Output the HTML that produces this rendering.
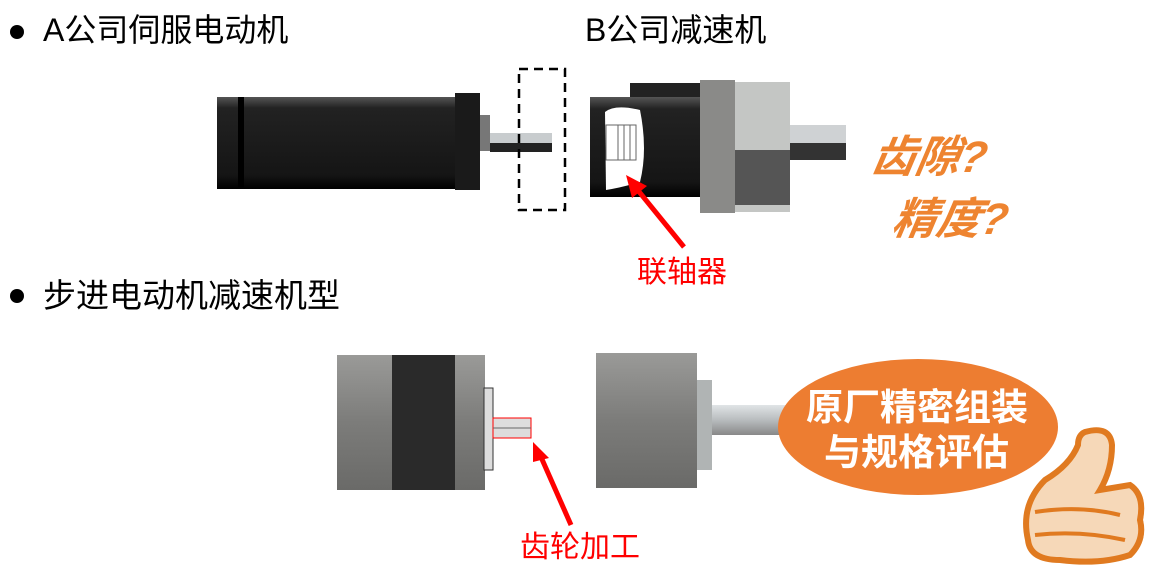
<!DOCTYPE html>
<html><head><meta charset="utf-8"><style>
body{margin:0;width:1153px;height:577px;background:#fff;position:relative;overflow:hidden;font-family:"Liberation Sans","Noto Sans CJK SC",sans-serif}
.t{position:absolute;white-space:nowrap;line-height:1}
</style></head><body>
<svg width="1153" height="577" style="position:absolute;left:0;top:0">
<defs>
<linearGradient id="dk" x1="0" y1="0" x2="0" y2="1"><stop offset="0" stop-color="#555"/><stop offset="0.12" stop-color="#222"/><stop offset="0.85" stop-color="#151515"/><stop offset="1" stop-color="#000"/></linearGradient>
<linearGradient id="gr" x1="0" y1="0" x2="0" y2="1"><stop offset="0" stop-color="#9a9a98"/><stop offset="0.5" stop-color="#7c7c7a"/><stop offset="1" stop-color="#6a6a68"/></linearGradient>
<linearGradient id="sh" x1="0" y1="0" x2="0" y2="1"><stop offset="0" stop-color="#e0e4e6"/><stop offset="0.5" stop-color="#b8bcbe"/><stop offset="1" stop-color="#888"/></linearGradient>
</defs>
<circle cx="17" cy="32" r="7" fill="#000"/>
<circle cx="17" cy="296" r="7" fill="#000"/>
<rect x="217" y="97" width="240" height="92" fill="url(#dk)"/>
<rect x="238" y="97" width="6" height="90" fill="#000"/>
<rect x="455" y="93" width="25" height="97" fill="#1a1a1a"/>
<rect x="480" y="115" width="10" height="36" fill="#777"/>
<rect x="490" y="133" width="62" height="10" fill="#c8ccce"/>
<rect x="490" y="143" width="62" height="9" fill="#222"/>
<rect x="519" y="69" width="46" height="141" fill="none" stroke="#000" stroke-width="2.5" stroke-dasharray="9,6"/>
<rect x="590" y="97" width="112" height="100" fill="url(#dk)"/>
<rect x="630" y="83" width="72" height="14" fill="#222"/>
<path d="M605 112 Q615 104 640 110 Q648 150 640 182 Q620 188 606 190 Z" fill="#fff"/>
<rect x="606" y="125" width="30" height="35" fill="#fff" stroke="#666"/>
<line x1="618" y1="125" x2="618" y2="160" stroke="#666"/><line x1="624" y1="125" x2="624" y2="160" stroke="#666"/><line x1="630" y1="125" x2="630" y2="160" stroke="#666"/>
<rect x="700" y="80" width="35" height="133" fill="#8a8a88"/>
<rect x="735" y="82" width="55" height="130" fill="#c4c6c4"/>
<rect x="735" y="150" width="55" height="55" fill="#555"/>
<rect x="790" y="125" width="56" height="18" fill="#cfd2d4"/>
<rect x="790" y="143" width="56" height="17" fill="#333"/>
<line x1="684" y1="247" x2="636" y2="188" stroke="#f00" stroke-width="5"/>
<polygon points="626,175 647,186 632,198" fill="#f00"/>
<rect x="337" y="355" width="148" height="135" fill="url(#gr)"/>
<rect x="392" y="355" width="63" height="135" fill="#2a2a2a"/>
<rect x="484" y="388" width="9" height="82" fill="#ddd" stroke="#333"/>
<rect x="493" y="418" width="38" height="20" fill="#ddd" stroke="#f00"/>
<line x1="493" y1="428" x2="531" y2="428" stroke="#666"/>
<line x1="571" y1="525" x2="541" y2="457" stroke="#f00" stroke-width="5"/>
<polygon points="533,442 549,458 533,462" fill="#f00"/>
<rect x="596" y="353" width="101" height="135" fill="url(#gr)"/>
<rect x="697" y="380" width="15" height="90" fill="#b0b4b4"/>
<rect x="712" y="405" width="80" height="30" fill="url(#sh)"/>
<ellipse cx="918" cy="427" rx="140" ry="68" fill="#ed7d31"/>
<path d="M1085 432 Q1110 425 1112 445 Q1112 470 1100 490 L1130 485 Q1145 495 1140 520 Q1145 540 1130 555 Q1100 565 1060 560 Q1030 560 1028 540 Q1020 505 1045 480 Q1070 465 1078 445 Q1078 435 1085 432 Z" fill="#f6d8b8" stroke="#e07a20" stroke-width="6"/>
<path d="M1035 512 Q1080 505 1120 515 M1035 535 Q1080 530 1125 540" stroke="#e07a20" stroke-width="4" fill="none"/>
</svg>
<div class="t" style="left:43px;top:14px;font-size:32px">A公司伺服电动机</div>
<div class="t" style="left:585px;top:14px;font-size:32px">B公司减速机</div>
<div class="t" style="left:43px;top:279px;font-size:33px">步进电动机减速机型</div>
<div class="t" style="left:637px;top:258px;font-size:30px;color:#f00">联轴器</div>
<div class="t" style="left:520px;top:533px;font-size:30px;color:#f00">齿轮加工</div>
<div class="t" style="left:872px;top:136px;font-size:44px;font-weight:bold;font-style:italic;color:#ee8430;transform:skewX(-10deg)">齿隙?</div>
<div class="t" style="left:893px;top:198px;font-size:44px;font-weight:bold;font-style:italic;color:#ee8430;transform:skewX(-10deg)">精度?</div>
<div class="t" style="left:806px;top:389px;font-size:37px;font-weight:bold;color:#fff">原厂精密组装</div>
<div class="t" style="left:824px;top:434px;font-size:37px;font-weight:bold;color:#fff">与规格评估</div>
</body></html>
